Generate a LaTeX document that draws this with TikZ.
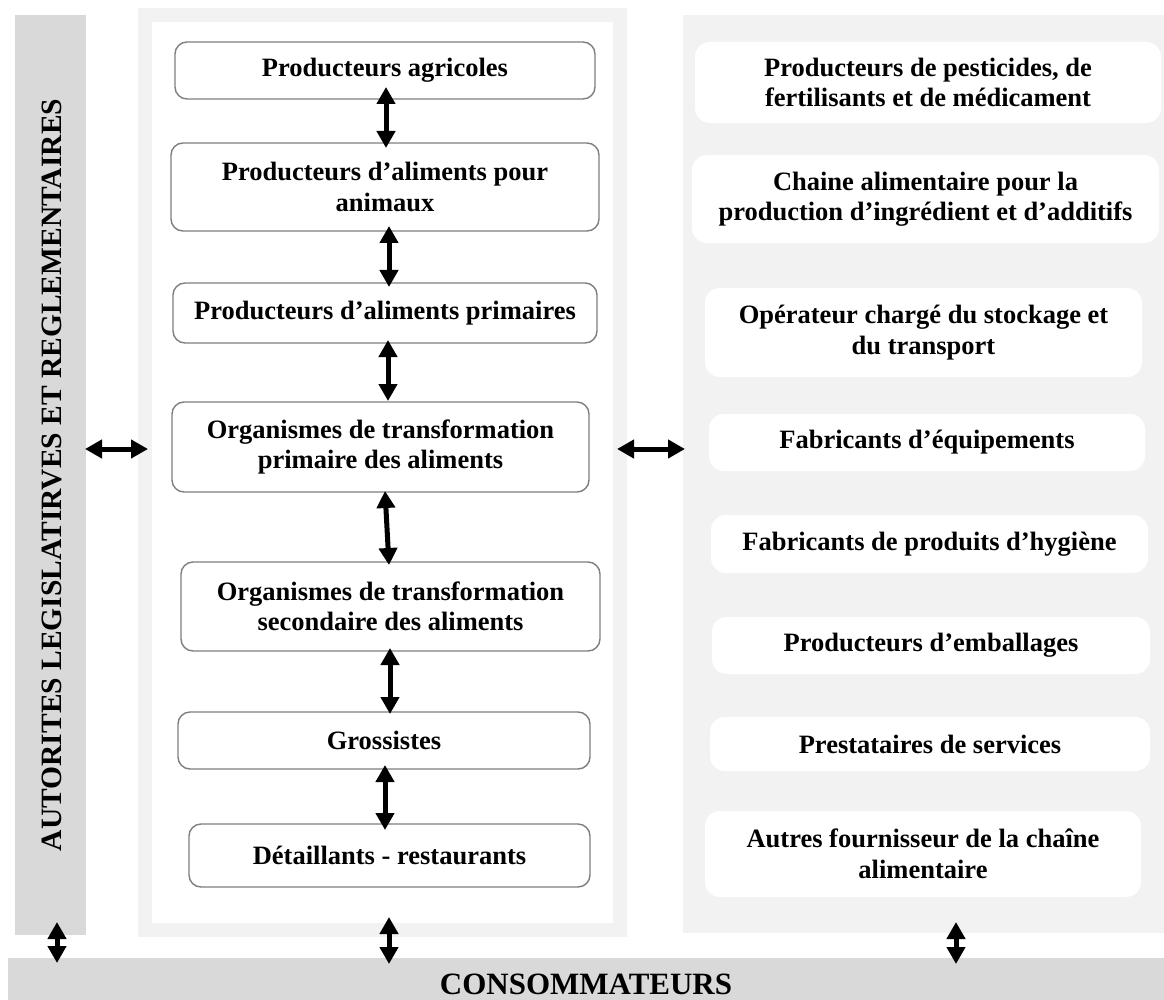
\documentclass[tikz,border=0pt]{standalone}
\usepackage{fontspec}
\setmainfont{Liberation Serif}
\usetikzlibrary{arrows.meta,calc}
\definecolor{bargray}{HTML}{D9D9D9}
\definecolor{panelgray}{HTML}{F2F2F2}
\definecolor{edgegray}{HTML}{7F7F7F}
\newcommand\bodyfont{\fontsize{26.5}{30.5}\selectfont\bfseries}
\tikzset{
  every node/.style={outer sep=0pt},
  chainbox/.style={draw=edgegray, line width=1.4pt, fill=white, rounded corners=12pt,
    align=center, inner sep=0pt, font=\bodyfont},
  supplierbox/.style={fill=white, rounded corners=15pt, align=center, inner sep=0pt,
    font=\bodyfont},
  link/.style={{Triangle[width=18pt,length=17pt]}-{Triangle[width=18pt,length=17pt]},
    line width=5pt},
}
\begin{document}
\begin{tikzpicture}[x=1pt,y=-1pt]
\useasboundingbox (0,0) rectangle (1164,1000);

% background bands and panels
\node[fill=bargray, minimum width=71pt, minimum height=920pt, inner sep=0pt] (auth) at (50.5,475) {};
\node[rotate=90, font=\fontsize{29.5}{33}\selectfont\bfseries] (authlabel) at ([xshift=1.5pt]auth.center)
  {AUTORITES LEGISLATIRVES ET REGLEMENTAIRES};
\node[draw=panelgray, line width=14pt, fill=white, minimum width=475pt, minimum height=915pt,
  inner sep=0pt] (chain) at (382.5,472.5) {};
\node[fill=panelgray, minimum width=481pt, minimum height=918pt, inner sep=0pt] (suppliers) at (923.5,474) {};
\node[fill=bargray, minimum width=1156pt, minimum height=52pt, inner sep=0pt,
  font=\fontsize{31}{35}\selectfont\bfseries] (consumers) at (586,984) {CONSOMMATEURS};

% food chain operators
\node[chainbox, minimum width=420pt, minimum height=57pt] (m1) at (385,70.5) {Producteurs agricoles};
\node[chainbox, minimum width=428pt, minimum height=88pt] (m2) at (385,187) {Producteurs d’aliments pour\\animaux};
\node[chainbox, minimum width=424pt, minimum height=60pt] (m3) at (385,313) {Producteurs d’aliments primaires};
\node[chainbox, minimum width=417pt, minimum height=90pt] (m4) at (380.5,447) {Organismes de transformation\\primaire des aliments};
\node[chainbox, minimum width=419pt, minimum height=89pt] (m5) at (390.5,606.5) {Organismes de transformation\\secondaire des aliments};
\node[chainbox, minimum width=412pt, minimum height=57pt] (m6) at (384,740.5) {Grossistes};
\node[chainbox, minimum width=401pt, minimum height=63pt] (m7) at (389.5,855.5) {Détaillants - restaurants};

% suppliers
\node[supplierbox, minimum width=466pt, minimum height=81pt] (r1) at (928,82.5) {Producteurs de pesticides, de\\fertilisants et de médicament};
\node[supplierbox, minimum width=467pt, minimum height=88pt] (r2) at (925.5,199) {Chaine alimentaire pour la\\production d’ingrédient et d’additifs};
\node[supplierbox, minimum width=437pt, minimum height=89pt] (r3) at (923.5,332.5) {Opérateur chargé du stockage et\\du transport};
\node[supplierbox, minimum width=436pt, minimum height=57pt] (r4) at (927,442.5) {Fabricants d’équipements};
\node[supplierbox, minimum width=437pt, minimum height=58pt] (r5) at (929.5,544) {Fabricants de produits d’hygiène};
\node[supplierbox, minimum width=438pt, minimum height=57pt] (r6) at (931,645.5) {Producteurs d’emballages};
\node[supplierbox, minimum width=440pt, minimum height=54pt] (r7) at (930,744) {Prestataires de services};
\node[supplierbox, minimum width=436pt, minimum height=86pt] (r8) at (923,854) {Autres fournisseur de la chaîne\\alimentaire};

% links along the chain
\draw[link] ($(m1.south)+(1,-12)$) -- ($(m2.north)+(1,5)$);
\draw[link] ($(m2.south)+(4,-5)$) -- ($(m3.north)+(4,4)$);
\draw[link] ($(m3.south)+(3,-3)$) -- ($(m4.north)+(7.5,-1)$);
\draw[link] ($(m4.south)+(4.5,-1)$) -- ($(m5.north)+(-1.5,3)$);
\draw[link] ($(m5.south)+(-0.5,-3)$) -- ($(m6.north)+(6,2)$);
\draw[link] ($(m6.south)+(1,-4)$) -- ($(m7.north)+(-4.5,6)$);

% links between the panels
\draw[link] ($(auth.east |- m4.center)+(-1,2)$) -- ($(chain.west |- m4.center)+(3,2)$);
\draw[link] ($(chain.east |- m4.center)+(-3,2)$) -- ($(suppliers.west |- m4.center)+(2,2)$);

% links to the consumers
\draw[link] ($(auth.south)+(6.5,-13)$) -- ($(auth.south |- consumers.north)+(6.5,5)$);
\draw[link] ($(chain.south)+(6.5,-13)$) -- ($(chain.south |- consumers.north)+(6.5,6)$);
\draw[link] ($(suppliers.south)+(32.5,-11)$) -- ($(suppliers.south |- consumers.north)+(32.5,6)$);
\end{tikzpicture}
\end{document}
